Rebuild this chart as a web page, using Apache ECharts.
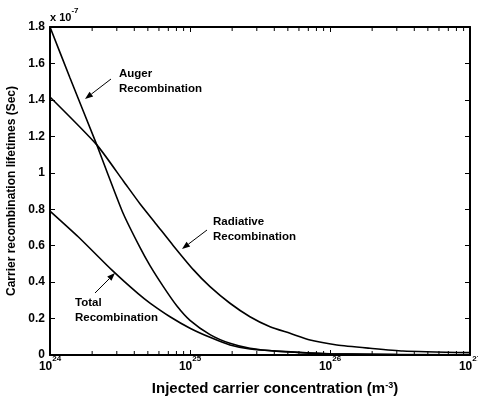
<!DOCTYPE html>
<html>
<head>
<meta charset="utf-8">
<script src="https://cdn.jsdelivr.net/npm/echarts@6/dist/echarts.min.js"></script>
<style>
  html, body { margin: 0; padding: 0; background: #fff; }
  #chart { width: 478px; height: 402px; }
</style>
</head>
<body>
<div id="chart"></div>
<script>
// injected carrier concentration (m^-3) and lifetimes (x 1e-7 s)
var augerN = [1e24, 1.39e24, 2.16e24, 2.54e24, 3.34e24, 4.39e24, 5.18e24, 6.45e24, 8.04e24, 1e25, 1.39e25, 1.93e25, 2.68e25, 4.16e25, 1e26, 3e26, 1e27];
var augerT = [1.80, 1.52, 1.153, 1.01, 0.775, 0.59, 0.49, 0.375, 0.27, 0.19, 0.112, 0.064, 0.037, 0.021, 0.007, 0.002, 0.001];

var radN = [1e24, 2.16e24, 3.34e24, 4.39e24, 5.78e24, 7.6e24, 1.06e25, 1.39e25, 1.93e25, 2.68e25, 3.73e25, 5.18e25, 7.2e25, 1.12e26, 1.93e26, 3.32e26, 1e27];
var radT = [1.416, 1.153, 0.955, 0.83, 0.715, 0.60, 0.467, 0.375, 0.284, 0.210, 0.155, 0.119, 0.082, 0.055, 0.037, 0.022, 0.013];

var totalN = [1e24, 1.59e24, 2.76e24, 4.28e24, 5.18e24, 7.2e24, 1e25, 1.39e25, 1.93e25, 2.68e25, 4.16e25, 1e26, 1e27];
var totalT = [0.79, 0.649, 0.467, 0.335, 0.285, 0.210, 0.147, 0.097, 0.055, 0.033, 0.021, 0.006, 0.001];

var minorTicks = [];
[1e24, 1e25, 1e26].forEach(function (d) {
  for (var k = 2; k <= 9; k++) minorTicks.push(k * d);
});

var FONT = 'Liberation Sans, Arial, sans-serif';

function pairs(xs, ys) {
  return xs.map(function (x, i) { return [x, ys[i]]; });
}

function arrow(x1, y1, x2, y2) {
  var a = Math.atan2(y2 - y1, x2 - x1), L = 8, W = 3;
  var bx = x2 - L * Math.cos(a), by = y2 - L * Math.sin(a);
  var px = -Math.sin(a) * W, py = Math.cos(a) * W;
  return [
    { type: 'line', shape: { x1: x1, y1: y1, x2: bx, y2: by }, style: { stroke: '#000', lineWidth: 1 } },
    { type: 'polygon', shape: { points: [[x2, y2], [bx + px, by + py], [bx - px, by - py]] }, style: { fill: '#000' } }
  ];
}

function note(x, y, txt) {
  return {
    type: 'text', x: x, y: y,
    style: { text: txt, fill: '#000', font: 'bold 11.5px ' + FONT, lineHeight: 15, verticalAlign: 'top' }
  };
}

var lineStyle = { color: '#000', width: 1.6 };

var myChart = echarts.init(document.getElementById('chart'));

var option = {
  animation: false,
  textStyle: { fontFamily: FONT },
  grid: { left: 50, right: 8, top: 27, bottom: 47, outerBoundsMode: 'none' },
  xAxis: [{
    type: 'log', logBase: 10, min: 1e24, max: 1e27,
    name: 'Injected carrier concentration (m{s|-3})',
    nameLocation: 'middle', nameGap: 26,
    nameTextStyle: {
      fontSize: 15, fontWeight: 'bold', color: '#000', padding: [0, 0, 0, 30],
      rich: { s: { fontSize: 9, fontWeight: 'bold', verticalAlign: 'top', padding: [0, 0, 7, 0] } }
    },
    axisLine: { onZero: false, lineStyle: { color: '#000', width: 2 } },
    axisTick: { inside: true, length: 5, lineStyle: { color: '#000' } },
    splitLine: { show: false },
    axisLabel: {
      margin: 0, color: '#000',
      formatter: function (v) { return '{b|10}{s|' + Math.round(Math.log10(v)) + '}'; },
      rich: {
        b: { fontSize: 12, fontWeight: 'bold', padding: [6, 0, 0, 0] },
        s: { fontSize: 8, fontWeight: 'bold', verticalAlign: 'top' }
      }
    }
  }, {
    type: 'log', logBase: 10, min: 1e24, max: 1e27, position: 'top',
    axisLine: { onZero: false, lineStyle: { color: '#000', width: 2 } },
    axisTick: { inside: true, length: 5, lineStyle: { color: '#000' } },
    axisLabel: { show: false },
    splitLine: { show: false }
  }],
  yAxis: [{
    type: 'value', min: 0, max: 1.8, interval: 0.2,
    name: 'Carrier recombination lifetimes (Sec)',
    nameLocation: 'middle', nameGap: 31,
    nameTextStyle: { fontSize: 12, fontWeight: 'bold', color: '#000' },
    axisLine: { show: true, onZero: false, lineStyle: { color: '#000', width: 2 } },
    axisTick: { show: true, inside: true, length: 5, lineStyle: { color: '#000' } },
    splitLine: { show: false },
    axisLabel: { margin: 5, color: '#000', fontSize: 12, fontWeight: 'bold' }
  }, {
    type: 'value', min: 0, max: 1.8, interval: 0.2, position: 'right',
    axisLine: { show: true, onZero: false, lineStyle: { color: '#000', width: 2 } },
    axisTick: { show: true, inside: true, length: 5, lineStyle: { color: '#000' } },
    axisLabel: { show: false },
    splitLine: { show: false }
  }],
  series: [
    { name: 'Auger', type: 'line', data: pairs(augerN, augerT), showSymbol: false, smooth: 0.2, lineStyle: lineStyle },
    { name: 'Radiative', type: 'line', data: pairs(radN, radT), showSymbol: false, smooth: 0.2, lineStyle: lineStyle },
    { name: 'Total', type: 'line', data: pairs(totalN, totalT), showSymbol: false, smooth: 0.2, lineStyle: lineStyle },
    {
      type: 'custom', silent: true, z: 5,
      data: minorTicks.map(function (v) { return [v, 0]; }),
      renderItem: function (params, api) {
        var b = api.coord([api.value(0), 0]);
        var t = api.coord([api.value(0), 1.8]);
        return {
          type: 'group', children: [
            { type: 'line', shape: { x1: b[0], y1: b[1], x2: b[0], y2: b[1] - 4 }, style: { stroke: '#000', lineWidth: 1 } },
            { type: 'line', shape: { x1: t[0], y1: t[1], x2: t[0], y2: t[1] + 4 }, style: { stroke: '#000', lineWidth: 1 } }
          ]
        };
      }
    }
  ],
  graphic: [
    {
      type: 'text', x: 50, y: 7,
      style: {
        text: '{b|x 10}{s|-7}', fill: '#000',
        rich: {
          b: { fontSize: 11, fontWeight: 'bold', fontFamily: FONT, padding: [5, 0, 0, 0] },
          s: { fontSize: 8, fontWeight: 'bold', fontFamily: FONT, verticalAlign: 'top' }
        }
      }
    },
    note(119, 66, 'Auger\nRecombination'),
    note(213, 214, 'Radiative\nRecombination'),
    note(75, 295, 'Total\nRecombination')
  ].concat(arrow(111, 79, 85, 99), arrow(207, 230, 182, 249), arrow(95, 293, 115, 273))
};

myChart.setOption(option);
</script>
</body>
</html>
